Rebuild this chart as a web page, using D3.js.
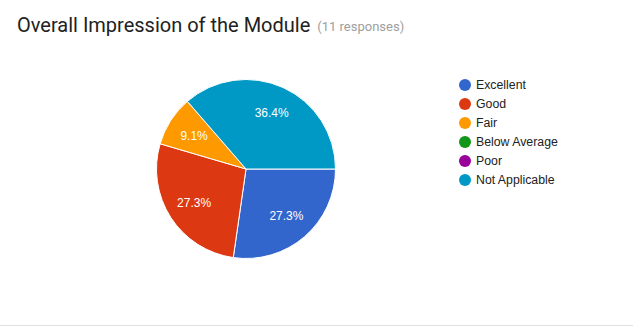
<!DOCTYPE html>
<html lang="en">
<head>
    <meta charset="UTF-8">
    <title>Overall Impression of the Module</title>
    <script src="https://cdn.jsdelivr.net/npm/d3@7/dist/d3.min.js"></script>
    <style>
        body {
            margin: 0;
            background: #fff;
            font-family: Roboto, sans-serif;
        }
        .arial {
            font-family: Arial, "Liberation Sans", sans-serif;
        }
    </style>
</head>
<body>
    <svg id="chart" width="633" height="327"></svg>
    <script>
        // data
        let categories = ["Excellent", "Good", "Fair", "Below Average", "Poor", "Not Applicable"]
        let counts = [3, 3, 1, 0, 0, 4]
        let colors = ["#3366cc", "#dc3912", "#ff9900", "#109618", "#990099", "#0099c6"]
        let total = 11

        let svg = d3.select("#chart")

        // title
        let title = svg.append("text")
            .attr("x", 17)
            .attr("y", 32)
            .attr("font-size", "20px")
            .attr("fill", "#212121")
            .text("Overall Impression of the Module")
        let tw = title.node().getComputedTextLength()
        svg.append("text")
            .attr("x", 17 + tw + 7)
            .attr("y", 31)
            .attr("font-size", "13px")
            .attr("fill", "#9e9e9e")
            .text("(" + total + " responses)")

        // pie
        let cx = 246, cy = 169, r = 89.5
        let pie = d3.pie().sort(null).value(d => d.value)
            .startAngle(Math.PI / 2).endAngle(Math.PI / 2 + 2 * Math.PI)
        let data = categories.map((c, i) => ({ name: c, value: counts[i], color: colors[i] }))
        let arcs = pie(data).filter(d => d.data.value > 0)
        let arc = d3.arc().innerRadius(0).outerRadius(r)
        let labelArc = d3.arc().innerRadius(r * 0.69).outerRadius(r * 0.69)

        let g = svg.append("g").attr("transform", `translate(${cx},${cy})`)
        g.selectAll("path")
            .data(arcs)
            .enter()
            .append("path")
            .attr("d", arc)
            .attr("fill", d => d.data.color)
            .attr("stroke", "#fff")
            .attr("stroke-width", 1)

        let fmt = d3.format(".1%")
        g.selectAll("text")
            .data(arcs)
            .enter()
            .append("text")
            .attr("class", "arial")
            .attr("transform", d => `translate(${labelArc.centroid(d)})`)
            .attr("text-anchor", "middle")
            .attr("dy", "0.36em")
            .attr("font-size", "12px")
            .attr("fill", "#fff")
            .text(d => fmt(d.data.value / total))

        // legend
        let legend = svg.append("g").attr("transform", "translate(465,85)")
        let rows = legend.selectAll("g")
            .data(data)
            .enter()
            .append("g")
            .attr("transform", (d, i) => `translate(0,${i * 19})`)
        rows.append("circle")
            .attr("r", 6)
            .attr("fill", d => d.color)
        rows.append("text")
            .attr("class", "arial")
            .attr("x", 11)
            .attr("dy", "0.36em")
            .attr("font-size", "12.3px")
            .attr("fill", "#222")
            .text(d => d.name)

        // bottom rule
        svg.append("line")
            .attr("x1", 0).attr("x2", 633)
            .attr("y1", 325.5).attr("y2", 325.5)
            .attr("stroke", "#e0e0e0")
    </script>
</body>
</html>
